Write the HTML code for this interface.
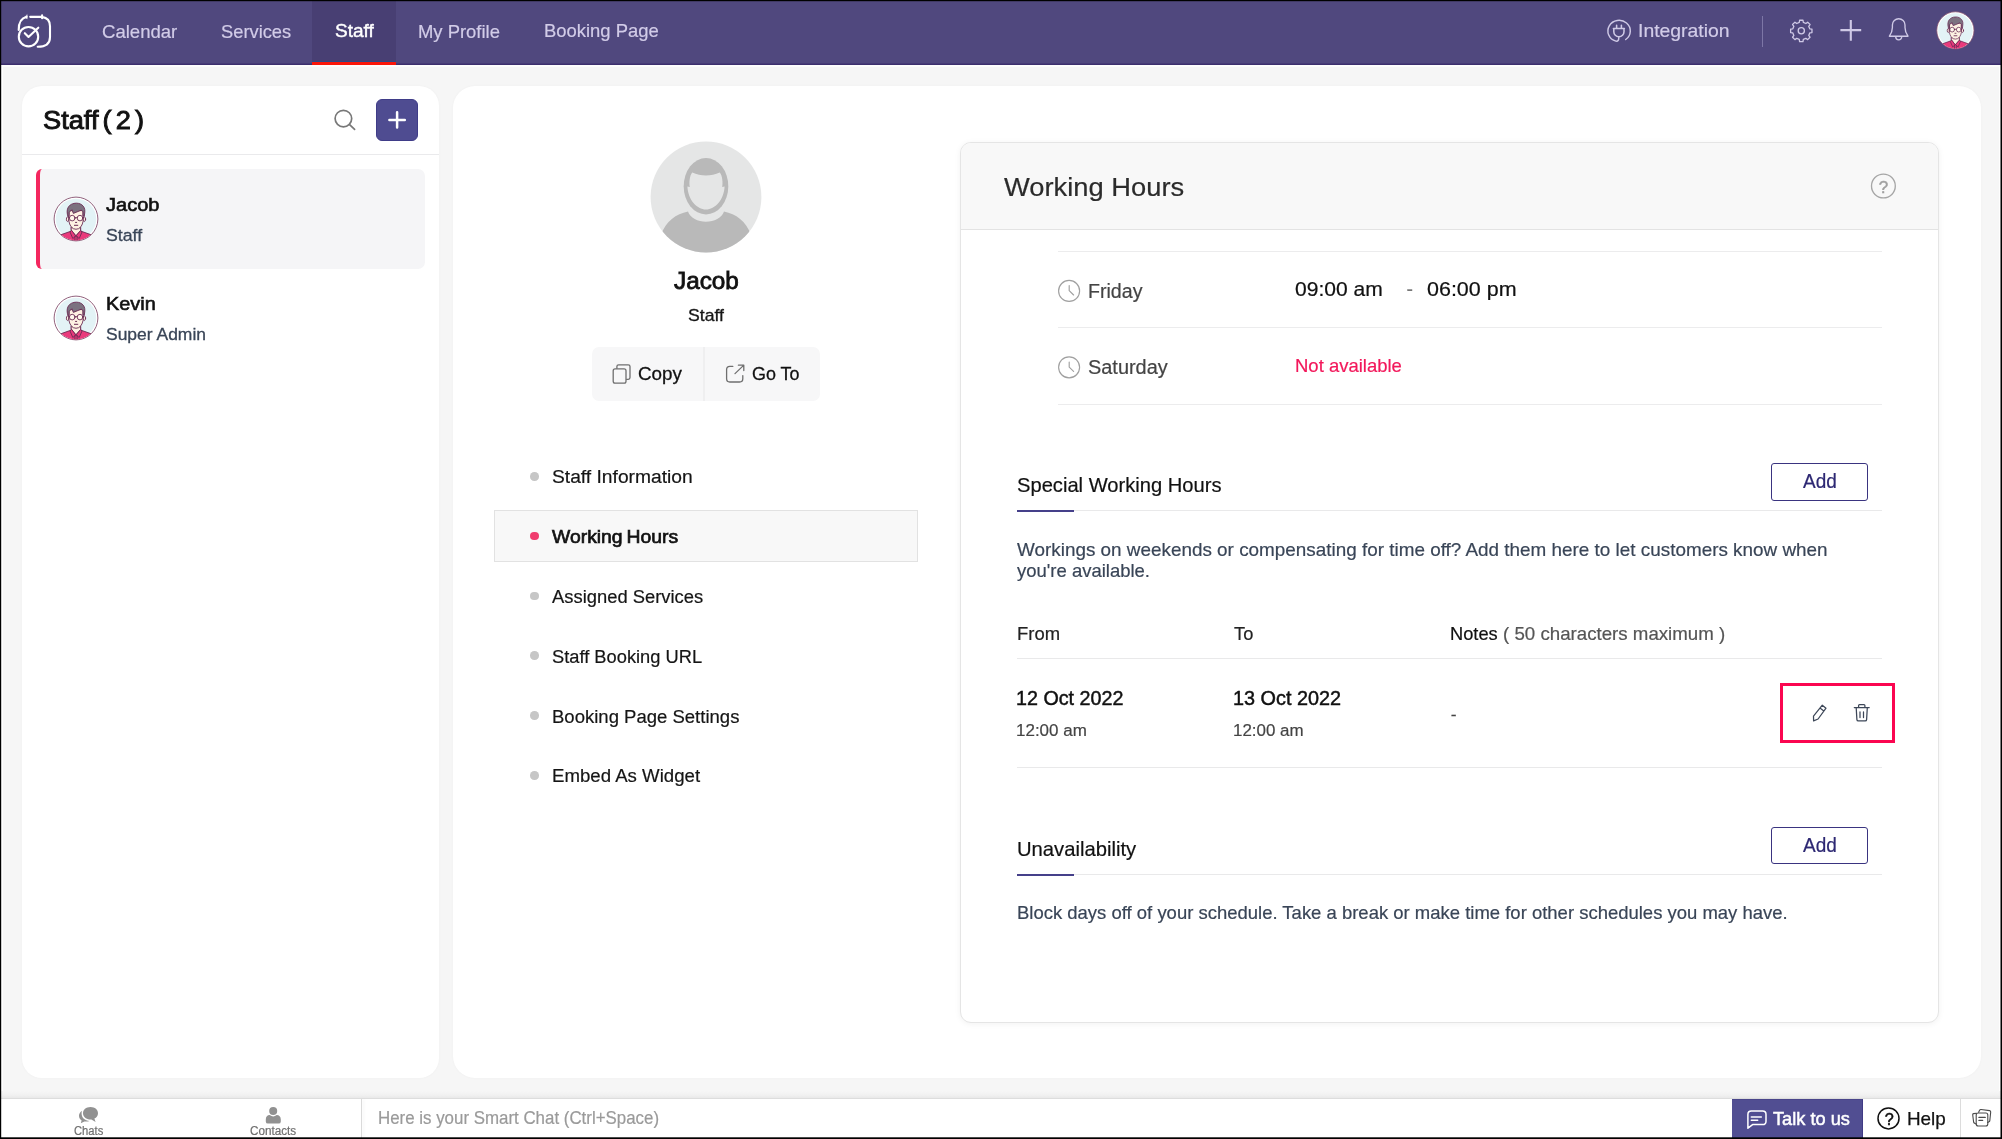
<!DOCTYPE html>
<html><head><meta charset="utf-8"><title>Staff - Working Hours</title>
<style>
*{box-sizing:border-box;margin:0;padding:0}
html,body{width:2002px;height:1139px;overflow:hidden;background:#f6f6f6;font-family:"Liberation Sans",sans-serif;color:#111}
.a{position:absolute}
.t{position:absolute;white-space:nowrap;line-height:1;font-family:"Liberation Sans",sans-serif}
svg{position:absolute;overflow:visible}
#txt{position:absolute;left:0;top:0;width:2002px;height:1139px;will-change:transform}
.fr{position:absolute;background:#000;z-index:50}
#nav{position:absolute;left:0;top:0;width:2002px;height:65px;background:linear-gradient(#50487e 0,#50487e 63px,#463b76 63px,#463b76 64px,#3c2f6d 64px,#3c2f6d 65px)}
#tabact{position:absolute;left:312px;top:0;width:84px;height:65px;background:#483f73;border-bottom:3px solid #f91509}
#navw{position:absolute;left:0;top:65px;width:2002px;height:2px;background:#fdfdfd}
#tabblue{position:absolute;left:312px;top:61px;width:84px;height:1px;background:#2c4a86}
#navdiv{position:absolute;left:1761.5px;top:16px;width:1.4px;height:31px;background:#7d76a6}
#left{position:absolute;left:22px;top:86px;width:417px;height:992px;background:#fff;border-radius:20px;box-shadow:0 0 3px rgba(0,0,0,.03)}
#lsep{position:absolute;left:22px;top:154px;width:417px;height:1px;background:#eaeaec}
#plusbtn{position:absolute;left:376px;top:99px;width:42px;height:42px;background:#4f4c91;border-radius:6px;border:1px solid #3f3c88}
#sel{position:absolute;left:36px;top:169px;width:389px;height:100px;background:#f5f5f7;border-radius:6px 7px 7px 6px;border-left:4px solid #f4275f}
#main{position:absolute;left:453px;top:86px;width:1528px;height:992px;background:#fff;border-radius:22px;box-shadow:0 0 3px rgba(0,0,0,.03)}
#btns{position:absolute;left:592.4px;top:347px;width:227.5px;height:54px;background:#f7f7f8;border-radius:7px}
#btnsdiv{position:absolute;left:703.4px;top:347px;width:1.2px;height:54px;background:#efeff0}
.dot{position:absolute;width:8.6px;height:8.6px;border-radius:50%;background:#c6c6c6;left:530.3px}
#msel{position:absolute;left:494.4px;top:510.2px;width:423.3px;height:51.6px;background:#f8f8f8;border:1.2px solid #e2e2e2}
#card{position:absolute;left:960px;top:142px;width:979px;height:881px;background:#fff;border:1px solid #e5e5e5;border-radius:11px;box-shadow:0 1px 6px rgba(0,0,0,.055)}
#cardh{position:absolute;left:961px;top:143px;width:977px;height:87px;background:#f8f8f8;border-radius:10px 10px 0 0;border-bottom:1px solid #e3e3e3}
.hl{position:absolute;height:1.3px;background:#ececed}
.ul{position:absolute;left:1017px;width:56.7px;height:2px;background:#45408a}
.addb{position:absolute;left:1771px;width:97.1px;height:37.5px;border:1.7px solid #3a3480;border-radius:3px;background:#fff}
#pink{position:absolute;left:1780px;top:683px;width:115px;height:60px;border:3px solid #fb0650}
#bshadow{position:absolute;left:0;top:1091px;width:2002px;height:8px;background:linear-gradient(#f6f6f6,#f1f1f1 50%,#e9e9e9 86%,#dddddd 88%)}
#bottom{position:absolute;left:0;top:1099px;width:2002px;height:40px;background:#fff}
#bsep1{position:absolute;left:361px;top:1098.6px;width:1.4px;height:40px;background:#dadada;box-shadow:2px 0 3px rgba(0,0,0,.06)}
#bsep2{position:absolute;left:1960px;top:1098.6px;width:1.2px;height:40px;background:#dcdcdc}
#talk{position:absolute;left:1732px;top:1099px;width:131px;height:39px;background:#514e92;border-top:1px solid #49458a;border-right:1px solid #403a84}
</style></head><body>
<svg width="0" height="0" style="position:absolute">
 <defs>
  <symbol id="av" viewBox="-24 -24 48 48">
   <circle r="21.9" fill="#ffffff" stroke="#86516f" stroke-width="0.9"/>
   <circle r="20.2" fill="#e3f3f6"/>
   <clipPath id="avc"><circle r="21.5"/></clipPath>
   <g clip-path="url(#avc)" stroke="#6b2d55" stroke-width="0.9" stroke-linejoin="round" stroke-linecap="round">
    <path d="M-4.6 9 V12 L-15.2 15.8 L-19 24 H19 L15.2 15.8 L4.6 12 V9Z" fill="#ea3a7c"/>
    <path d="M-4.6 11.6 L0 16.8 L4.6 11.6 V8 H-4.6Z" fill="#fdf1e2"/>
    <path d="M-4.6 11.6 L-6 13 L-3.2 19.5 L0 16.8 L3.2 19.5 L6 13 L4.6 11.6 L0 16.8Z" fill="#ea3a7c"/>
    <path d="M-1.1 17.6 V22 M1.1 17.6 V22" fill="none"/>
    <ellipse cx="-8.3" cy="0.2" rx="1.3" ry="2.3" fill="#fdf1e2"/>
    <ellipse cx="8.3" cy="0.2" rx="1.3" ry="2.3" fill="#fdf1e2"/>
    <path d="M-7 -8 V2.5 C-6.5 6 -4.5 8.6 -2.6 9.7 Q0 10.8 2.6 9.7 C4.5 8.6 6.5 6 7 2.5 V-8Z" fill="#fdf1e2"/>
    <path d="M-8.2 -2.8 C-10 -9 -8.4 -14.2 -2 -15.6 C4 -16.8 9.4 -13.4 8.8 -7 L8.3 -2.8 L7 -3.2 V-7.2 L5.4 -8.9 L-2.6 -5.6 L-4.2 -9.4 L-6.8 -6.6 L-7 -3.2Z" fill="#7c7280"/>
    <circle cx="-3.8" cy="-0.9" r="2.8" fill="#fff8ec"/>
    <circle cx="4" cy="-0.9" r="2.8" fill="#fff8ec"/>
    <path d="M-1 -1.3 H1.2 M-6.6 -1.4 L-7.4 -1.8 M6.8 -1.4 L7.6 -1.8" fill="none"/>
    <path d="M-0.5 3.4 H0.7 M-1.6 6.3 H1.8" fill="none" stroke-width="1"/>
   </g>
  </symbol>
 </defs>
</svg>

<div id="nav"><div id="tabact"></div><div id="tabblue"></div><div id="navdiv"></div></div><div id="navw"></div>
<!-- logo -->
<svg class="a" style="left:0;top:0" width="70" height="64" viewBox="0 0 70 64" fill="none" stroke="#fff" stroke-width="2.1" stroke-linecap="round" stroke-linejoin="round">
 <path d="M18.7 30 C18.7 22.6 21.4 18 26.6 16.8 M30.2 16.85 H42 M42.1 15.2 V18.2 M42 16.85 C47.2 17.6 50 20.8 50 26.2 V37 C50 43 46 46.8 37.7 46.8"/>
 <path d="M27.2 15 V18.7 L24.8 17.5Z" fill="#fff" stroke-width="0.5"/>
 <circle cx="28.5" cy="36.7" r="9.7"/>
 <path d="M24.8 33.2 L28.5 36.9 L38.3 27.7"/>
</svg>
<!-- nav right icons -->
<svg class="a" style="left:0;top:0" width="2002" height="64" viewBox="0 0 2002 64" fill="none" stroke="#cfc9e6" stroke-width="1.45" stroke-linecap="round" stroke-linejoin="round">
 <path d="M1625.7 39.5 A11.2 10.6 0 1 0 1615.9 41.1 C1617.9 41.6 1618.8 40.2 1618.8 37.4"/>
 <path d="M1613.4 28.5 H1624.4 M1613.8 28.5 V31.7 A5.1 5.1 0 0 0 1624 31.7 V28.5 M1616.6 25.3 V28.3 M1621.4 25.3 V28.3" stroke-width="1.55"/>
 <path d="M1799.27 22.44 L1799.61 20.23 L1802.99 20.23 L1803.33 22.44 L1805.85 23.48 L1807.65 22.16 L1810.04 24.55 L1808.72 26.35 L1809.76 28.87 L1811.97 29.21 L1811.97 32.59 L1809.76 32.93 L1808.72 35.45 L1810.04 37.25 L1807.65 39.64 L1805.85 38.32 L1803.33 39.36 L1802.99 41.57 L1799.61 41.57 L1799.27 39.36 L1796.75 38.32 L1794.95 39.64 L1792.56 37.25 L1793.88 35.45 L1792.84 32.93 L1790.63 32.59 L1790.63 29.21 L1792.84 28.87 L1793.88 26.35 L1792.56 24.55 L1794.95 22.16 L1796.75 23.48Z" stroke-width="1.3"/>
 <circle cx="1801.3" cy="30.8" r="3.1" stroke-width="1.3"/>
 <path d="M1840.4 30.1 H1861.2 M1850.8 19.9 V40.7" stroke-width="2.1" stroke-linecap="butt"/>
 <path d="M1889.4 36.2 C1891.6 33 1892.4 31 1892.4 27.4 V25 A6.3 6.3 0 0 1 1905 25 V27.4 C1905 31 1905.8 33 1908 36.2 Z M1895.7 36.8 A3 3 0 0 0 1901.7 36.8" stroke-width="1.35"/>
</svg>
<svg class="a" style="left:1934.7px;top:10.4px" width="40.8" height="40.8"><use href="#av"/></svg>

<div id="wsl" class="a" style="left:1px;top:65px;width:2px;height:1073px;background:#fefefe"></div><div class="a" style="left:1999px;top:65px;width:2px;height:1073px;background:#fefefe"></div>
<div id="left"></div>
<div id="lsep"></div>
<svg class="a" style="left:330px;top:106px" width="30" height="30" viewBox="330 106 30 30" fill="none" stroke="#787878" stroke-width="1.7" stroke-linecap="round">
 <circle cx="343.4" cy="118.6" r="8.3"/><path d="M349.6 124.6 L354.6 129.4"/>
</svg>
<div id="plusbtn"></div>
<svg class="a" style="left:376px;top:99px" width="42" height="42" viewBox="376 99 42 42" stroke="#fff" stroke-width="2.5" stroke-linecap="round"><path d="M389.4 119.9 H404.8 M397.1 112.2 V127.6"/></svg>
<div id="sel"></div>
<svg class="a" style="left:52.1px;top:195.2px" width="48" height="48"><use href="#av"/></svg>
<svg class="a" style="left:52.1px;top:294.4px" width="48" height="48"><use href="#av"/></svg>

<div id="main"></div>
<!-- profile silhouette -->
<svg class="a" style="left:650px;top:141px" width="112" height="112" viewBox="-56 -56 112 112">
 <clipPath id="pc"><circle r="55.4"/></clipPath>
 <circle r="55.4" fill="#e5e6e6"/>
 <g clip-path="url(#pc)">
  <path d="M-18 14.5 C-30 17 -40 24 -45 38 L-30 60 H30 L45 38 C40 24 30 17 18 14.5 C16 21 8 24.8 0 24.8 C-8 24.8 -16 21 -18 14.5Z" fill="#b9b9b9"/>
  <ellipse cx="0" cy="-10.8" rx="22.3" ry="28.2" fill="#b9b9b9"/>
  <path d="M-13.8 -24.4 C-5 -20.6 5 -20.6 13.8 -24.4 C16.5 -21 17 -14 16.2 -10 L18.6 -10.4 C18 3 9 12.6 0 12.6 C-9 12.6 -18 3 -18.6 -10.4 L-16.2 -10 C-17 -14 -16.5 -21 -13.8 -24.4Z" fill="#e5e6e6"/>
 </g>
</svg>
<div id="btns"></div><div id="btnsdiv"></div>


<div class="dot" style="top:472.2px"></div>
<div id="msel"></div>
<div class="dot" style="top:531.8px;background:#f03c6e"></div>
<div class="dot" style="top:591.6px"></div>
<div class="dot" style="top:651.4px"></div>
<div class="dot" style="top:711.2px"></div>
<div class="dot" style="top:771px"></div>

<div id="card"></div><div id="cardh"></div>
<div class="hl" style="left:1058.2px;top:250.8px;width:824px"></div>
<div class="hl" style="left:1058.2px;top:326.7px;width:824px"></div>
<div class="hl" style="left:1058.2px;top:403.8px;width:824px"></div>
<div class="hl" style="left:1017px;top:510.2px;width:865px;background:#e9e9ea"></div>
<div class="ul" style="top:509.7px"></div>
<div class="addb" style="top:463px"></div>
<div class="hl" style="left:1017px;top:657.9px;width:865px;background:#e9e9ea"></div>
<div class="hl" style="left:1017px;top:766.9px;width:865px;background:#e9e9ea"></div>
<div id="pink"></div>
<div class="hl" style="left:1017px;top:874px;width:865px;background:#e9e9ea"></div>
<div class="ul" style="top:873.5px"></div>
<div class="addb" style="top:826.7px"></div>

<div id="bshadow"></div>
<div id="bottom"></div>
<div id="bsep1"></div><div id="bsep2"></div>
<div id="talk"></div>
<svg class="a" style="left:0;top:1098px" width="2002" height="41" viewBox="0 1098 2002 41" fill="none" stroke-linecap="round" stroke-linejoin="round">
 <path d="M1751.3 1111.1 H1762.6 Q1766 1111.1 1766 1114.5 V1121.2 Q1766 1124.6 1762.6 1124.6 H1752.6 L1747.9 1128.2 V1114.5 Q1747.9 1111.1 1751.3 1111.1Z M1751.3 1117 H1761.3 M1751.3 1120.3 H1757.7" stroke="#fff" stroke-width="1.5"/>
 <circle cx="1888.5" cy="1118.4" r="10.5" stroke="#111" stroke-width="1.5"/>
 <g stroke="#4a4a4a" stroke-width="1.1">
  <path d="M1976.6 1113.2 L1973.6 1113.6 Q1972.6 1113.8 1972.7 1114.8 L1973.6 1122 Q1973.8 1122.8 1974.6 1123.2 L1976.6 1124.2"/>
  <path d="M1978.6 1112.2 L1979.6 1110.2 Q1980 1109.4 1981 1109.5 L1989.6 1110.6 Q1990.8 1110.8 1990.7 1112 L1989.8 1120.6 Q1989.7 1121.4 1989 1121.8 L1987.6 1122.6"/>
  <rect x="1976.2" y="1113" width="11.6" height="13" rx="2"/>
  <path d="M1979 1117.4 H1985.2 M1979 1120.4 H1982.6" stroke-width="1.4"/>
 </g>
</svg>

<svg class="a" style="left:0;top:0" width="2002" height="1139" viewBox="0 0 2002 1139" fill="none" stroke-linecap="round" stroke-linejoin="round">
 <!-- copy icon -->
 <g stroke="#6f6f6f" stroke-width="1.3">
  <path d="M616.9 368.2 V366.6 Q616.9 364.9 618.6 364.9 H628.3 Q630 364.9 630 366.6 V377.6 Q630 379.3 628.3 379.3 H626.6"/>
  <rect x="613.2" y="368.9" width="12.8" height="14.2" rx="1.9"/>
 </g>
 <!-- goto icon -->
 <g stroke="#6f6f6f" stroke-width="1.3">
  <path d="M732.8 366.4 H729.8 Q726.6 366.4 726.6 369.6 V378.8 Q726.6 382 729.8 382 H739.6 Q742.8 382 742.8 378.8 V375.6"/>
  <path d="M735 373.6 L743.6 365.4 M738.4 365.2 H743.8 V370.6"/>
 </g>
 <!-- clocks -->
 <g stroke="#a0a0a0" stroke-width="1.15">
  <circle cx="1069.1" cy="290.9" r="10.5"/><path d="M1069.2 285.6 V290.7 L1073.6 295"/>
  <circle cx="1069.1" cy="367.3" r="10.5"/><path d="M1069.2 362 V367.1 L1073.6 371.4"/>
 </g>
 <!-- help icon in card -->
 <circle cx="1883.4" cy="186" r="11.9" stroke="#a6a6a6" stroke-width="1.35"/>
 <!-- pencil -->
 <g stroke="#3d4758" stroke-width="1.25">
  <path d="M1822.3 705.2 L1826 708.2 L1818.1 719 L1813.6 720.9 L1813.5 716.2 Z M1820 708.1 L1823.8 711"/>
 </g>
 <!-- trash -->
 <g stroke="#3d4758" stroke-width="1.25">
  <path d="M1854.3 707.5 H1869.2 M1858.6 707.3 V705.6 Q1858.6 704.7 1859.5 704.7 H1864 Q1864.9 704.7 1864.9 705.6 V707.3 M1856.2 707.7 L1856.9 719.6 Q1857 720.9 1858.3 720.9 H1865.2 Q1866.5 720.9 1866.6 719.6 L1867.3 707.7 M1860 711.9 V717.6 M1863.5 711.9 V717.6"/>
 </g>
 <!-- bottom: chats icon -->
 <g fill="#919191" stroke="none">
  <path d="M90.5 1107 C95 1107 98 1109.8 98 1113.2 C98 1115.6 96.6 1117.5 94.4 1118.6 L95.6 1122 L91.4 1119.5 C86.6 1119.8 83 1117 83 1113.2 C83 1109.8 86 1107 90.5 1107Z"/>
  <path d="M82 1110.8 C80.2 1112 79 1113.8 79 1115.8 C79 1117.8 80 1119.4 81.6 1120.4 L80.8 1123.2 L84.4 1121.4 C86.2 1121.7 88 1121.5 89.5 1120.9 C85 1120.6 81.6 1117.6 81.6 1113.4 C81.6 1112.5 81.7 1111.6 82 1110.8Z"/>
  <circle cx="273.2" cy="1111" r="4"/>
  <path d="M265.8 1121.4 V1119.4 C265.8 1116.6 267.4 1115 269.7 1115.05 A5.4 5.4 0 0 0 276.7 1115.05 C279 1115 280.8 1116.6 280.8 1119.4 V1121.4 Q280.8 1123.6 278.6 1123.6 H268 Q265.8 1123.6 265.8 1121.4Z"/>
 </g>
</svg>
<div id="txt">
<div class="t" style="left:1878.8px;top:178.6px;font-size:17px;color:#a0a0a0;-webkit-text-stroke:0.45px #a0a0a0">?</div>
<div class="t" style="left:1884.7px;top:1111.3px;font-size:16.2px;color:#111;-webkit-text-stroke:0.5px #111">?</div>
<div class="t" style="left:101.5px;top:22.7px;font-size:18.6px;color:#d2cce8;letter-spacing:0.000px;-webkit-text-stroke:0.20px #d2cce8;transform:scaleX(0.9978);transform-origin:0 0;">Calendar</div>
<div class="t" style="left:220.8px;top:22.7px;font-size:18.6px;color:#d2cce8;letter-spacing:0.000px;-webkit-text-stroke:0.20px #d2cce8;transform:scaleX(0.9844);transform-origin:0 0;">Services</div>
<div class="t" style="left:335.2px;top:21.5px;font-size:18.6px;color:#ffffff;letter-spacing:0.000px;-webkit-text-stroke:0.41px #ffffff;transform:scaleX(1.0236);transform-origin:0 0;">Staff</div>
<div class="t" style="left:418.4px;top:22.7px;font-size:18.6px;color:#d2cce8;letter-spacing:0.000px;-webkit-text-stroke:0.20px #d2cce8;transform:scaleX(0.9909);transform-origin:0 0;">My Profile</div>
<div class="t" style="left:544.3px;top:21.5px;font-size:18.6px;color:#d2cce8;letter-spacing:0.000px;-webkit-text-stroke:0.20px #d2cce8;transform:scaleX(0.9914);transform-origin:0 0;">Booking Page</div>
<div class="t" style="left:1638.4px;top:21.5px;font-size:18.6px;color:#d2cce8;letter-spacing:0.000px;-webkit-text-stroke:0.20px #d2cce8;transform:scaleX(1.0424);transform-origin:0 0;">Integration</div>
<div class="t" style="left:43.4px;top:107.6px;font-size:25.4px;color:#111111;letter-spacing:0.000px;word-spacing:-3.20px;-webkit-text-stroke:0.90px #111111;transform:scaleX(1.0713);transform-origin:0 0;">Staff ( 2 )</div>
<div class="t" style="left:105.6px;top:194.7px;font-size:19.2px;color:#111111;letter-spacing:0.000px;-webkit-text-stroke:0.62px #111111;transform:scaleX(1.0429);transform-origin:0 0;">Jacob</div>
<div class="t" style="left:105.6px;top:227.1px;font-size:17.2px;color:#394557;letter-spacing:0.000px;-webkit-text-stroke:0.30px #394557;transform:scaleX(1.0300);transform-origin:0 0;">Staff</div>
<div class="t" style="left:105.6px;top:294.4px;font-size:19.2px;color:#111111;letter-spacing:0.000px;-webkit-text-stroke:0.62px #111111;transform:scaleX(1.0354);transform-origin:0 0;">Kevin</div>
<div class="t" style="left:105.6px;top:326.3px;font-size:17.2px;color:#394557;letter-spacing:0.000px;-webkit-text-stroke:0.30px #394557;transform:scaleX(1.0160);transform-origin:0 0;">Super Admin</div>
<div class="t" style="left:673.8px;top:268.7px;font-size:24.6px;color:#111111;letter-spacing:0.000px;-webkit-text-stroke:0.85px #111111;transform:scaleX(0.9887);transform-origin:0 0;">Jacob</div>
<div class="t" style="left:688.1px;top:306.9px;font-size:17.0px;color:#151515;letter-spacing:0.000px;-webkit-text-stroke:0.32px #151515;transform:scaleX(1.0359);transform-origin:0 0;">Staff</div>
<div class="t" style="left:638.3px;top:365.8px;font-size:17.6px;color:#111111;letter-spacing:0.000px;-webkit-text-stroke:0.28px #111111;transform:scaleX(1.0687);transform-origin:0 0;">Copy</div>
<div class="t" style="left:751.6px;top:365.8px;font-size:17.6px;color:#111111;letter-spacing:0.000px;-webkit-text-stroke:0.28px #111111;transform:scaleX(1.0188);transform-origin:0 0;">Go To</div>
<div class="t" style="left:551.8px;top:468.4px;font-size:18.8px;color:#151515;letter-spacing:0.000px;-webkit-text-stroke:0.20px #151515;transform:scaleX(1.0235);transform-origin:0 0;">Staff Information</div>
<div class="t" style="left:551.8px;top:528.1px;font-size:18.8px;color:#111111;letter-spacing:0.000px;word-spacing:-1.50px;-webkit-text-stroke:0.70px #111111;transform:scaleX(1.0306);transform-origin:0 0;">Working Hours</div>
<div class="t" style="left:551.8px;top:587.9px;font-size:18.8px;color:#151515;letter-spacing:0.000px;-webkit-text-stroke:0.20px #151515;transform:scaleX(0.9786);transform-origin:0 0;">Assigned Services</div>
<div class="t" style="left:551.8px;top:647.7px;font-size:18.8px;color:#151515;letter-spacing:0.000px;-webkit-text-stroke:0.20px #151515;transform:scaleX(0.9736);transform-origin:0 0;">Staff Booking URL</div>
<div class="t" style="left:551.8px;top:707.5px;font-size:18.8px;color:#151515;letter-spacing:0.000px;-webkit-text-stroke:0.20px #151515;transform:scaleX(0.9861);transform-origin:0 0;">Booking Page Settings</div>
<div class="t" style="left:551.8px;top:767.3px;font-size:18.8px;color:#151515;letter-spacing:0.000px;-webkit-text-stroke:0.20px #151515;transform:scaleX(0.9921);transform-origin:0 0;">Embed As Widget</div>
<div class="t" style="left:1004.0px;top:173.6px;font-size:26.7px;color:#2b2b2b;letter-spacing:0.000px;-webkit-text-stroke:0.20px #2b2b2b;transform:scaleX(1.0239);transform-origin:0 0;">Working Hours</div>
<div class="t" style="left:1088.2px;top:281.5px;font-size:19.5px;color:#444444;letter-spacing:0.000px;-webkit-text-stroke:0.20px #444444;transform:scaleX(1.0058);transform-origin:0 0;">Friday</div>
<div class="t" style="left:1295.0px;top:279.7px;font-size:19.3px;color:#111111;letter-spacing:0.000px;-webkit-text-stroke:0.20px #111111;transform:scaleX(1.0920);transform-origin:0 0;">09:00 am</div>
<div class="t" style="left:1406.5px;top:279.7px;font-size:19.3px;color:#777777;letter-spacing:0.000px;-webkit-text-stroke:0.20px #777777;">-</div>
<div class="t" style="left:1427.1px;top:279.7px;font-size:19.3px;color:#111111;letter-spacing:0.000px;-webkit-text-stroke:0.20px #111111;transform:scaleX(1.1143);transform-origin:0 0;">06:00 pm</div>
<div class="t" style="left:1088.2px;top:357.9px;font-size:19.5px;color:#444444;letter-spacing:0.000px;-webkit-text-stroke:0.20px #444444;transform:scaleX(1.0210);transform-origin:0 0;">Saturday</div>
<div class="t" style="left:1295.0px;top:357.2px;font-size:18.5px;color:#f2185b;letter-spacing:0.000px;-webkit-text-stroke:0.20px #f2185b;transform:scaleX(0.9995);transform-origin:0 0;">Not available</div>
<div class="t" style="left:1017.0px;top:475.4px;font-size:20.2px;color:#111111;letter-spacing:0.000px;-webkit-text-stroke:0.20px #111111;transform:scaleX(0.9978);transform-origin:0 0;">Special Working Hours</div>
<div class="t" style="left:1802.6px;top:471.9px;font-size:19.3px;color:#2d2873;letter-spacing:0.000px;-webkit-text-stroke:0.20px #2d2873;transform:scaleX(0.9851);transform-origin:0 0;">Add</div>
<div class="t" style="left:1017.0px;top:540.6px;font-size:18.4px;color:#394557;letter-spacing:0.000px;-webkit-text-stroke:0.20px #394557;transform:scaleX(1.0267);transform-origin:0 0;">Workings on weekends or compensating for time off? Add them here to let customers know when</div>
<div class="t" style="left:1017.0px;top:562.2px;font-size:18.4px;color:#394557;letter-spacing:0.000px;-webkit-text-stroke:0.20px #394557;transform:scaleX(1.0051);transform-origin:0 0;">you&#x27;re available.</div>
<div class="t" style="left:1017.0px;top:624.6px;font-size:18.2px;color:#222222;letter-spacing:0.000px;-webkit-text-stroke:0.20px #222222;transform:scaleX(1.0133);transform-origin:0 0;">From</div>
<div class="t" style="left:1233.7px;top:624.6px;font-size:18.2px;color:#222222;letter-spacing:0.000px;-webkit-text-stroke:0.20px #222222;transform:scaleX(1.0042);transform-origin:0 0;">To</div>
<div class="t" style="left:1450.1px;top:624.6px;font-size:18.2px;color:#111111;letter-spacing:0.000px;-webkit-text-stroke:0.20px #111111;transform:scaleX(1.0039);transform-origin:0 0;">Notes</div>
<div class="t" style="left:1503.0px;top:624.6px;font-size:18.2px;color:#555555;letter-spacing:0.000px;-webkit-text-stroke:0.20px #555555;transform:scaleX(1.0274);transform-origin:0 0;">( 50 characters maximum )</div>
<div class="t" style="left:1015.8px;top:688.7px;font-size:19.3px;color:#111111;letter-spacing:0.000px;-webkit-text-stroke:0.45px #111111;transform:scaleX(1.0222);transform-origin:0 0;">12 Oct 2022</div>
<div class="t" style="left:1232.5px;top:688.7px;font-size:19.3px;color:#111111;letter-spacing:0.000px;-webkit-text-stroke:0.45px #111111;transform:scaleX(1.0280);transform-origin:0 0;">13 Oct 2022</div>
<div class="t" style="left:1015.9px;top:721.5px;font-size:17.4px;color:#444444;letter-spacing:0.000px;-webkit-text-stroke:0.20px #444444;transform:scaleX(0.9763);transform-origin:0 0;">12:00 am</div>
<div class="t" style="left:1232.6px;top:721.5px;font-size:17.4px;color:#444444;letter-spacing:0.000px;-webkit-text-stroke:0.20px #444444;transform:scaleX(0.9736);transform-origin:0 0;">12:00 am</div>
<div class="t" style="left:1450.7px;top:705.8px;font-size:17.4px;color:#444444;letter-spacing:0.000px;-webkit-text-stroke:0.20px #444444;">-</div>
<div class="t" style="left:1017.0px;top:839.1px;font-size:20.2px;color:#111111;letter-spacing:0.000px;-webkit-text-stroke:0.20px #111111;transform:scaleX(1.0022);transform-origin:0 0;">Unavailability</div>
<div class="t" style="left:1802.6px;top:835.6px;font-size:19.3px;color:#2d2873;letter-spacing:0.000px;-webkit-text-stroke:0.20px #2d2873;transform:scaleX(0.9851);transform-origin:0 0;">Add</div>
<div class="t" style="left:1017.0px;top:904.4px;font-size:18.4px;color:#394557;letter-spacing:0.000px;-webkit-text-stroke:0.20px #394557;transform:scaleX(1.0048);transform-origin:0 0;">Block days off of your schedule. Take a break or make time for other schedules you may have.</div>
<div class="t" style="left:74.0px;top:1125.2px;font-size:12.0px;color:#6f6f6f;letter-spacing:0.000px;-webkit-text-stroke:0.20px #6f6f6f;transform:scaleX(0.9343);transform-origin:0 0;">Chats</div>
<div class="t" style="left:250.4px;top:1125.2px;font-size:12.0px;color:#6f6f6f;letter-spacing:0.000px;-webkit-text-stroke:0.20px #6f6f6f;transform:scaleX(0.9755);transform-origin:0 0;">Contacts</div>
<div class="t" style="left:378.3px;top:1109.8px;font-size:17.6px;color:#9a9a9a;letter-spacing:0.000px;-webkit-text-stroke:0.20px #9a9a9a;transform:scaleX(0.9596);transform-origin:0 0;">Here is your Smart Chat (Ctrl+Space)</div>
<div class="t" style="left:1772.9px;top:1108.9px;font-size:19.0px;color:#ffffff;letter-spacing:0.000px;-webkit-text-stroke:0.50px #ffffff;transform:scaleX(0.9581);transform-origin:0 0;">Talk to us</div>
<div class="t" style="left:1906.8px;top:1108.9px;font-size:19.0px;color:#111111;letter-spacing:0.000px;-webkit-text-stroke:0.25px #111111;transform:scaleX(0.9929);transform-origin:0 0;">Help</div>
</div>
<div class="fr" style="left:0;top:0;width:2002px;height:1px"></div><div class="fr" style="left:0;top:1px;width:2002px;height:1px;background:rgba(0,0,0,.2)"></div>
<div class="fr" style="left:0;top:0;width:1px;height:1139px"></div><div class="fr" style="left:1px;top:0;width:1px;height:1139px;background:rgba(0,0,0,.2)"></div>
<div class="fr" style="left:2001px;top:0;width:1px;height:1139px"></div><div class="fr" style="left:2000px;top:0;width:1px;height:1139px;background:rgba(0,0,0,.5)"></div>
<div class="fr" style="left:0;top:1138px;width:2002px;height:1px"></div><div class="fr" style="left:0;top:1137px;width:2002px;height:1px;background:rgba(0,0,0,.7)"></div>

</body></html>
